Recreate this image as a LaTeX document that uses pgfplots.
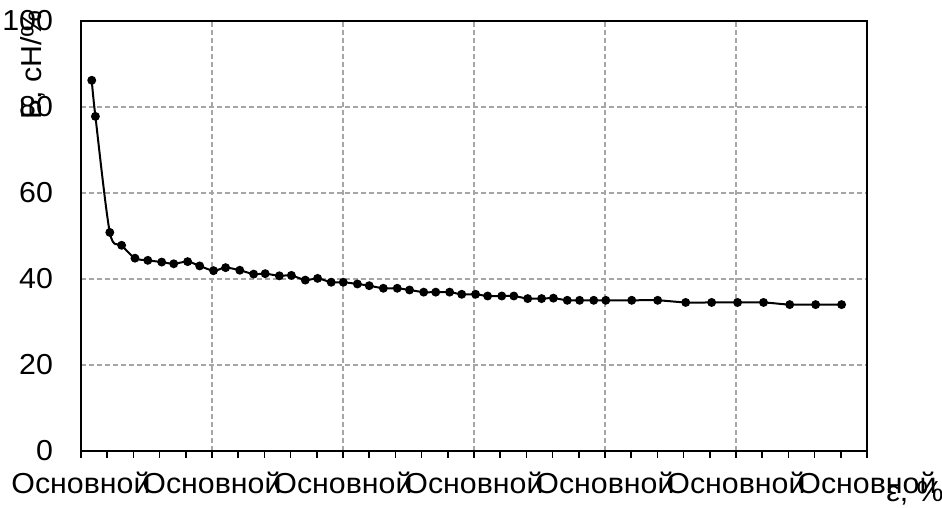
\documentclass[border=0pt]{standalone}
\usepackage{pgfplots}
\pgfplotsset{compat=1.18}
\usepackage{fontspec}
\setmainfont{Liberation Sans}[FakeStretch=1.05]
\begin{document}
\begin{tikzpicture}
\begin{axis}[
  scale only axis,
  width=393bp, height=214.85bp,
  xmin=0, xmax=300, ymin=0, ymax=100,
  xtick={0,50,...,300},
  xticklabels={Основной,Основной,Основной,Основной,Основной,Основной,Основной},
  minor x tick num=4,
  ytick={0,20,...,100},
  grid=major,
  major grid style={gray!70, line width=0.75bp, dash pattern=on 2.5bp off 1.5bp},
  axis line style={line width=1bp},
  xtick pos=lower, tick align=outside,
  ytick style={draw=none},
  xtick style={black, line width=0.75bp},
  minor x tick style={black, line width=0.75bp},
  major tick length=3.5bp, minor tick length=3.5bp,
  /pgf/number format/assume math mode=true,
  tick label style={font=\fontsize{14.5}{17}\selectfont},
  xticklabel style={yshift=-3.5bp},
  yticklabel style={xshift=-7bp},
  ylabel={Б, сН/\%},
  ylabel style={font=\fontsize{14.5}{17}\selectfont, at={(axis description cs:-0.061,0.898)}, anchor=center},
  xlabel={ε, \%},
  xlabel style={font=\fontsize{14.5}{17}\selectfont, at={(axis description cs:1.061,-0.099)}, anchor=center},
]
\addplot[black, line width=1bp, smooth, tension=0.5, mark=*, mark size=1.7bp, mark options={solid, fill=black}] table {
x y
4.1 86.2
5.5 77.8
11.0 50.8
15.5 47.8
20.6 44.8
25.5 44.3
30.8 43.9
35.4 43.5
40.7 44.0
45.3 43.0
50.6 41.9
55.2 42.6
60.6 42.0
65.9 41.1
70.3 41.2
75.7 40.7
80.3 40.8
85.6 39.7
90.3 40.1
95.5 39.2
100.1 39.2
105.5 38.8
110.0 38.4
115.4 37.8
120.7 37.8
125.4 37.4
130.8 36.9
135.4 36.9
140.7 36.9
145.3 36.4
150.6 36.4
155.2 36.0
160.6 36.0
165.2 36.0
170.5 35.4
175.8 35.4
180.3 35.5
185.6 35.0
190.3 35.0
195.7 35.0
200.3 35.0
210.2 35.0
220.1 35.0
230.8 34.5
240.7 34.5
250.6 34.5
260.5 34.5
270.5 34.0
280.4 34.0
290.3 34.0
};
\end{axis}
\pgfresetboundingbox
\path[use as bounding box] (-40.5bp,-28.65bp) rectangle (430.5bp,225.35bp);
\end{tikzpicture}
\end{document}
